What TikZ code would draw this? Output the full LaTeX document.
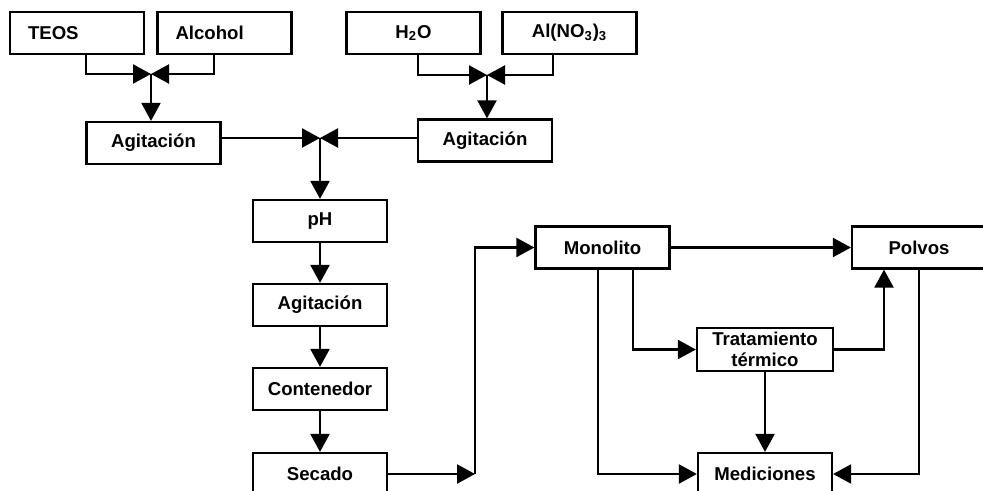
\documentclass[tikz,border=0pt]{standalone}
\usepackage{fontspec}
\setmainfont{Liberation Sans}
\usetikzlibrary{arrows.meta}

\begin{document}
\begin{tikzpicture}[x=0.5pt,y=-0.5pt,
  box/.style={draw,line width=1.1pt,align=center,
    font=\fontsize{9.3}{10.3}\selectfont\bfseries,
    inner sep=0pt,minimum width=67pt,minimum height=21pt},
  lbox/.style={box,text width=49pt,align=left},
  arr/.style={-{Triangle[length=9pt,width=9.5pt]},line width=1.1pt}]
\clip (0,0) rectangle (983,491);
\node[lbox] (TE) at (77,33) {TEOS};
\node[lbox] (AL) at (224.5,33) {Alcohol};
\node[box] (HO) at (413.5,33) {H\textsubscript{2}O};
\node[box] (AN) at (569.5,33) {\raisebox{1pt}{Al(NO\textsubscript{3})\textsubscript{3}}};
\node[box] (A1) at (153.5,143) {Agitación};
\node[box] (A2) at (485,140.5) {Agitación};
\node[box] (PH) at (320,221) {pH};
\node[box] (A3) at (320,305) {Agitación};
\node[box] (CO) at (320,389) {Contenedor};
\node[box] (SE) at (320,474) {Secado};
\node[box] (MO) at (602.5,247.5) {Monolito};
\node[box] (PO) at (919,247.5) {Polvos};
\node[box,minimum width=68pt,minimum height=21.5pt] (TT) at (765,349.5) {Tratamiento\\ térmico};
\node[box] (ME) at (765,474) {Mediciones};
\coordinate (J1) at (151,74);
\coordinate (J2) at (487,75);
\coordinate (J3) at (320,138);
\coordinate (K) at (475,0);
\coordinate (K2) at (884,0);
\draw[arr] ([xshift=4.5pt]TE.south) |- (J1);
\draw[arr] ([xshift=-5.25pt]AL.south) |- (J1);
\draw[arr] (J1) -- (J1 |- A1.north);
\draw[arr] ([xshift=2.25pt]HO.south) |- (J2);
\draw[arr] ([xshift=-8.25pt]AN.south) |- (J2);
\draw[arr] (J2) -- (J2 |- A2.north);
\draw[arr] (A1.east |- J3) -- (J3);
\draw[arr] (A2.west |- J3) -- (J3);
\draw[arr] (J3) -- (PH);
\draw[arr] (PH) -- (A3);
\draw[arr] (A3) -- (CO);
\draw[arr] (CO) -- (SE);
\draw[arr] (SE) -- (SE -| K);
\draw[arr] (SE -| K) |- (MO);
\draw[arr] (MO) -- (PO);
\draw[arr] ([xshift=15.25pt]MO.south) |- (TT);
\draw[arr] ([xshift=-2.25pt]MO.south) |- (ME);
\draw[arr] (TT) -| (K2 |- PO.south);
\draw[arr] (TT.south -| ME) -- (ME);
\draw[arr] (PO.south) |- (ME);
\end{tikzpicture}
\end{document}
